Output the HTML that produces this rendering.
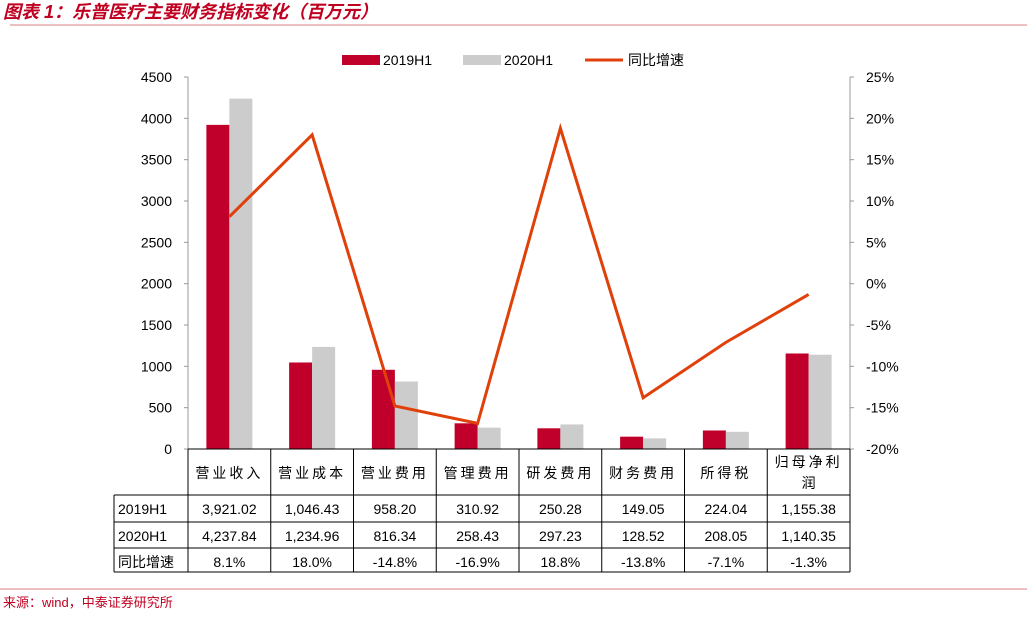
<!DOCTYPE html>
<html><head><meta charset="utf-8"><style>
body{margin:0;background:#fff;width:1027px;height:612px;overflow:hidden;font-family:"Liberation Sans","Noto Sans CJK SC",sans-serif}
svg text{font-family:"Liberation Sans","Noto Sans CJK SC",sans-serif}
</style></head><body>
<svg id="c" width="1027" height="612" xmlns="http://www.w3.org/2000/svg">
<text x="3" y="18" font-size="18" font-weight="bold" font-style="italic" fill="#c00020">图表 1：乐普医疗主要财务指标变化（百万元）</text>
<line x1="10" y1="25" x2="1027" y2="25" stroke="#d98080" stroke-width="1"/>
<line x1="0" y1="589" x2="1027" y2="589" stroke="#d98080" stroke-width="1"/>
<text x="3" y="607" font-size="13" fill="#c00020">来源：wind，中泰证券研究所</text>
<g id="legend">
<rect x="342" y="55" width="38" height="10" fill="#c0002a"/>
<text x="383" y="65" font-size="14">2019H1</text>
<rect x="463" y="55" width="38" height="10" fill="#cccccc"/>
<text x="504" y="65" font-size="14">2020H1</text>
<line x1="585" y1="60" x2="623" y2="60" stroke="#e0400a" stroke-width="3"/>
<text x="628" y="65" font-size="14">同比增速</text>
</g>
<g id="plot"></g>
</svg>
<script>
const categories=["营业收入","营业成本","营业费用","管理费用","研发费用","财务费用","所得税","归母净利润"];
const s2019=[3921.02,1046.43,958.20,310.92,250.28,149.05,224.04,1155.38];
const s2020=[4237.84,1234.96,816.34,258.43,297.23,128.52,208.05,1140.35];
const growth=[8.1,18.0,-14.8,-16.9,18.8,-13.8,-7.1,-1.3];
const leftTicks=[0,500,1000,1500,2000,2500,3000,3500,4000,4500];
const rightTicks=[-20,-15,-10,-5,0,5,10,15,20,25];
const NS="http://www.w3.org/2000/svg";
const X0=188,X1=850,Y0=449,Y1=77;
const bw=(X1-X0)/categories.length;
const yL=v=>Y0-(v/4500)*(Y0-Y1);
const yR=v=>Y0-((v+20)/45)*(Y0-Y1);
const xc=i=>X0+bw*(i+0.5);
const g=document.getElementById('plot');
function mk(t,a,txt){const e=document.createElementNS(NS,t);for(const k in a)e.setAttribute(k,a[k]);if(txt!==undefined)e.textContent=txt;g.appendChild(e);return e;}
let e;
e=mk('line',{x1:X0,y1:Y1,x2:X0,y2:Y0,stroke:'#999'});


e=mk('line',{x1:X1,y1:Y1,x2:X1,y2:Y0,stroke:'#999'});


leftTicks.forEach(v=>{
 e=mk('text',{x:X0-16,y:yL(v)+5,'font-size':14,'text-anchor':'end'},String(v));
 
 
 mk('line',{x1:X0-4,y1:yL(v),x2:X0,y2:yL(v),stroke:'#999'});
});
rightTicks.forEach(v=>{
 e=mk('text',{x:X1+16,y:yR(v)+5,'font-size':14},v+'%');
 
 
 mk('line',{x1:X1,y1:yR(v),x2:X1+4,y2:yR(v),stroke:'#999'});
});
categories.forEach((c,i)=>{
 e=mk('rect',{x:xc(i)-23,y:yL(s2019[i]),width:23,height:Y0-yL(s2019[i]),fill:'#c0002a'});
 
 
 e=mk('rect',{x:xc(i),y:yL(s2020[i]),width:23,height:Y0-yL(s2020[i]),fill:'#cccccc'});
 
 
});
e=mk('polyline',{points:growth.map((v,i)=>xc(i)+','+yR(v)).join(' '),fill:'none',stroke:'#e0400a','stroke-width':3});


// table
const rows=[495,522,548,572];
const L=114;
mk('line',{x1:X0,y1:Y0,x2:X1,y2:Y0,stroke:'#000'});
mk('line',{x1:L,y1:rows[0],x2:X1,y2:rows[0],stroke:'#000'});
rows.slice(1).forEach(y=>mk('line',{x1:L,y1:y,x2:X1,y2:y,stroke:'#000'}));
mk('line',{x1:L,y1:rows[0],x2:L,y2:rows[3],stroke:'#000'});
for(let i=0;i<=categories.length;i++)mk('line',{x1:X0+bw*i,y1:Y0,x2:X0+bw*i,y2:rows[3],stroke:'#000'});
const lbl=["2019H1","2020H1","同比增速"];
lbl.forEach((t,r)=>{e=mk('text',{x:L+4,y:rows[r]+19,'font-size':14},t);
 
 });
const fmt=v=>v.toLocaleString('en-US',{minimumFractionDigits:2,maximumFractionDigits:2});
categories.forEach((c,i)=>{
 if(c.length>4){
  e=mk('text',{x:xc(i),y:467,'font-size':14,'text-anchor':'middle','letter-spacing':3},c.slice(0,4));
  mk('text',{x:xc(i),y:488,'font-size':14,'text-anchor':'middle'},c.slice(4));
 } else e=mk('text',{x:xc(i),y:478,'font-size':14,'text-anchor':'middle','letter-spacing':3},c);
 
 
 [fmt(s2019[i]),fmt(s2020[i]),growth[i].toFixed(1)+'%'].forEach((t,r)=>{
  e=mk('text',{x:xc(i),y:rows[r]+19,'font-size':14,'text-anchor':'middle'},t);
  
  
 });
});
</script>
</body></html>
